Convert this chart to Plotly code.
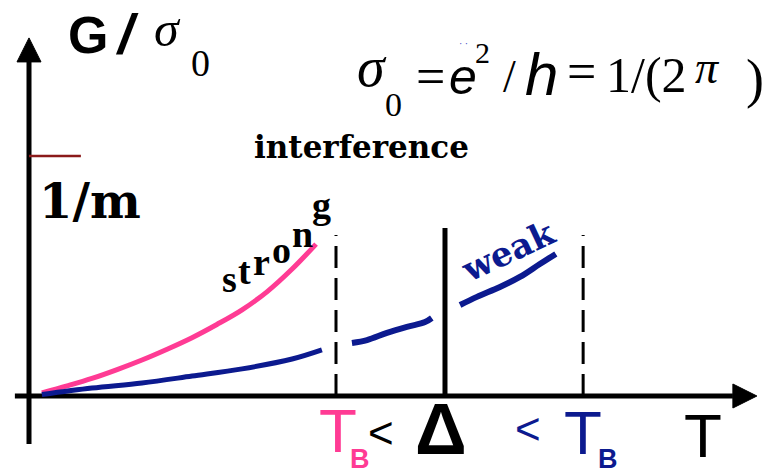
import plotly.graph_objects as go

# ---- schematic data (T in units of strong-coupling T_B, G in units of 1/m) ----
strong_T = [0.042, 0.124, 0.205, 0.287, 0.368, 0.450, 0.531, 0.612, 0.694, 0.775, 0.857, 0.935]
strong_G = [0.013, 0.042, 0.073, 0.110, 0.150, 0.195, 0.243, 0.298, 0.359, 0.434, 0.529, 0.633]

weak_low_T = [0.042, 0.205, 0.368, 0.531, 0.694, 0.857, 0.954]
weak_low_G = [0.006, 0.033, 0.054, 0.083, 0.113, 0.154, 0.192]

weak_mid_T = [1.052, 1.101, 1.166, 1.231, 1.290, 1.312]
weak_mid_G = [0.221, 0.233, 0.263, 0.288, 0.308, 0.325]

weak_high_T = [1.404, 1.459, 1.534, 1.599, 1.664, 1.716]
weak_high_G = [0.379, 0.413, 0.454, 0.496, 0.550, 0.592]

TB_strong = 1.0
DELTA = 1.355
TB_weak = 1.805
G_unitary = 1.0          # 1/m level
dash_top = 0.671
delta_top = 0.700

# axis extents
X_MIN, X_TIP = -0.046, 2.371
Y_MIN, Y_TIP = -0.20, 1.492

PINK = "#ff3b94"
NAVY = "#0c1a8f"
SERIF = "Liberation Serif, Times New Roman, serif"
SANS = "Liberation Sans, Arial, sans-serif"
W, H = 773, 476
XS, YS = 307.0, 240.0     # px per data unit
X0_PX, Y0_PX = 29, 396    # origin position

fig = go.Figure()

def line(x, y, color, width, dash=None, shape="linear"):
    fig.add_trace(go.Scatter(x=x, y=y, mode="lines", hoverinfo="skip",
                             line=dict(color=color, width=width, dash=dash, shape=shape)))

def poly(x, y, color):
    fig.add_trace(go.Scatter(x=x, y=y, mode="lines", fill="toself", fillcolor=color,
                             line=dict(color=color, width=1), hoverinfo="skip"))

# axes with arrowheads
head = 24.0
line([X_MIN, X_TIP - head / XS], [0, 0], "black", 5)
poly([X_TIP, X_TIP - head / XS, X_TIP - head / XS, X_TIP],
     [0, 12 / YS, -12 / YS, 0], "black")
line([0, 0], [Y_MIN, Y_TIP - head / YS], "black", 5)
poly([0, -12 / XS, 12 / XS, 0],
     [Y_TIP, Y_TIP - head / YS, Y_TIP - head / YS, Y_TIP], "black")

# 1/m marker
line([0, 0.169], [G_unitary, G_unitary], "#8b1a1a", 2.5)

# T_B and Delta markers
line([TB_strong, TB_strong], [0, dash_top], "black", 3, dash="22px,10px")
line([TB_weak, TB_weak], [0, dash_top], "black", 3, dash="22px,10px")
line([DELTA, DELTA], [0, delta_top], "black", 5)

# conductance curves
line(strong_T, strong_G, PINK, 5, shape="spline")
line(weak_low_T, weak_low_G, NAVY, 5, shape="spline")
line(weak_mid_T, weak_mid_G, NAVY, 6, shape="spline")
line(weak_high_T, weak_high_G, NAVY, 6, shape="spline")

ann = []

def txt(s, x, y, size, family=SERIF, color="black", angle=0, anchor="center"):
    ann.append(dict(text=s, x=x / W, y=1 - y / H, xref="paper", yref="paper",
                    xanchor=anchor, yanchor="middle", showarrow=False,
                    textangle=angle, font=dict(family=family, size=size, color=color)))

# y-axis title G/sigma_0
txt("<b>G</b>", 88, 35, 52, SANS)
txt("<b><i>/</i></b>", 127, 34, 56, SANS)
txt("<i>σ</i>", 167, 29, 50)
txt("0", 200, 63, 38)

# 1/m label
txt("<b>1/m</b>", 90, 201, 48, "DejaVu Serif")

# formula
txt("<i>σ</i>", 372, 67, 56)
txt("0", 393, 104, 34)
txt("=", 430, 76, 52)
txt("<i>e</i>", 463, 77, 50, SANS)
txt("2", 482, 52, 30)
txt("/", 509, 77, 46)
txt("<i>h</i>", 541, 74, 60, SANS)
txt("=", 581, 71, 52)
txt("1/(2", 604, 75, 50, anchor="left")
txt("<i>π</i>", 707, 68, 46)
txt(")", 755, 79, 54)
txt("· ·", 463, 43, 10, color="#3040c0")

# interference
txt("<b>interference</b>", 361, 147, 31, "DejaVu Serif")

# "strong" climbing along the curve
for ch, x, y in [("s", 229, 279), ("t", 244, 271), ("r", 261, 262),
                 ("o", 281, 250), ("n", 302, 234), ("g", 321, 205)]:
    txt("<b>%s</b>" % ch, x, y, 38, SERIF)

# "weak"
txt("<b>weak</b>", 508, 251, 34, "DejaVu Serif", NAVY, -25)

# T axis labels
txt("T", 338, 430, 62, SANS, PINK)
txt("<b>B</b>", 360, 459, 27, SANS, PINK)
txt("<", 381, 432, 44, SANS)
txt("<b>Δ</b>", 441, 429, 72, SANS)
txt("<", 528, 428, 44, SANS, NAVY)
txt("T", 583, 432, 62, SANS, NAVY)
txt("<b>B</b>", 608, 459, 27, SANS, NAVY)
txt("T", 703, 435, 62, SANS)

fig.update_layout(
    width=W, height=H, margin=dict(l=0, r=0, t=0, b=0),
    paper_bgcolor="white", plot_bgcolor="white", showlegend=False,
    xaxis=dict(range=[-X0_PX / XS, (W - X0_PX) / XS], visible=False, fixedrange=True),
    yaxis=dict(range=[-(H - Y0_PX) / YS, Y0_PX / YS], visible=False, fixedrange=True),
    annotations=ann,
)

fig.write_html("out.html")
